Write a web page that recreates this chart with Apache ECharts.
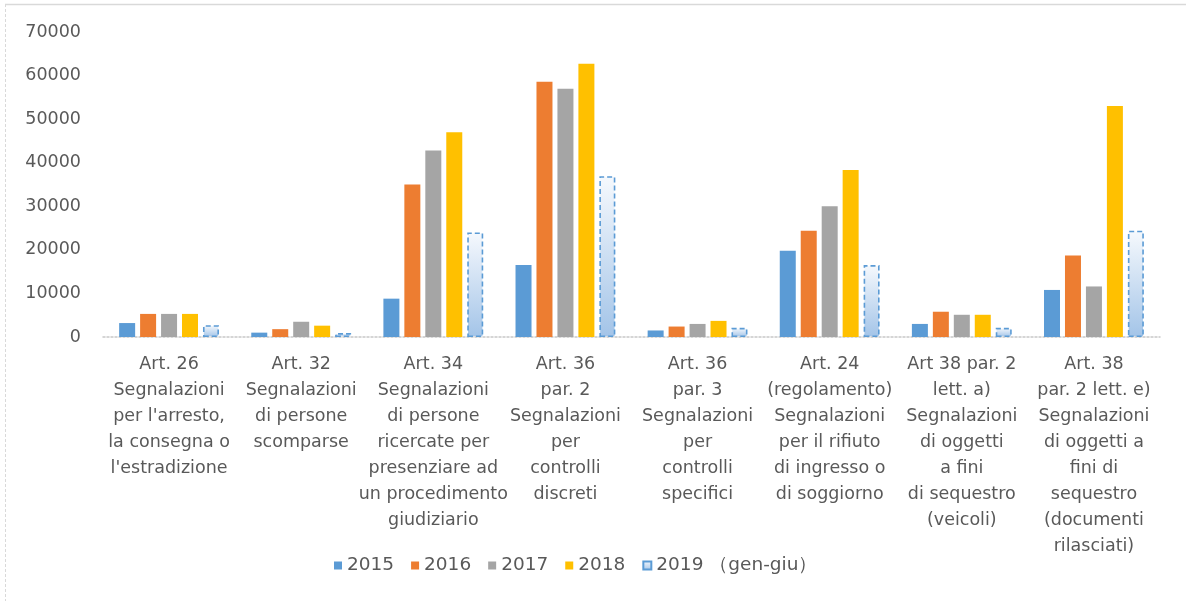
<!DOCTYPE html>
<html><head><meta charset="utf-8">
<script src="https://cdn.jsdelivr.net/npm/echarts@6/dist/echarts.min.js"></script>
<style>html,body{margin:0;padding:0;background:#fff}#c{width:1186px;height:601px}</style>
</head><body><div id="c"></div>
<script>
const categories = [
  "Art. 26\nSegnalazioni\nper l'arresto,\nla consegna o\nl'estradizione",
  "Art. 32\nSegnalazioni\ndi persone\nscomparse",
  "Art. 34\nSegnalazioni\ndi persone\nricercate per\npresenziare ad\nun procedimento\ngiudiziario",
  "Art. 36\npar. 2\nSegnalazioni\nper\ncontrolli\ndiscreti",
  "Art. 36\npar. 3\nSegnalazioni\nper\ncontrolli\nspecifici",
  "Art. 24\n(regolamento)\nSegnalazioni\nper il rifiuto\ndi ingresso o\ndi soggiorno",
  "Art 38 par. 2\nlett. a)\nSegnalazioni\ndi oggetti\na fini\ndi sequestro\n(veicoli)",
  "Art. 38\npar. 2 lett. e)\nSegnalazioni\ndi oggetti a\nfini di\nsequestro\n(documenti\nrilasciati)"
];
const seriesNames = ["2015", "2016", "2017", "2018", "2019 （gen-giu）"];
const v2015 = [3200, 1000, 8800, 16500, 1500, 19800, 3000, 10800];
const v2016 = [5300, 1800, 35000, 58600, 2400, 24400, 5800, 18700];
const v2017 = [5300, 3500, 42800, 57000, 3000, 30000, 5100, 11600];
const v2018 = [5300, 2600, 47000, 62700, 3700, 38300, 5100, 53000];
const v2019 = [2700, 900, 24000, 36900, 2100, 16500, 2100, 24400];
const yTicks = [0, 10000, 20000, 30000, 40000, 50000, 60000, 70000];

const colors = ["#5B9BD5", "#ED7D31", "#A5A5A5", "#FFC000"];
const txt = "#595959";
const font = "'DejaVu Sans', Verdana, sans-serif";
const grad2019 = new echarts.graphic.LinearGradient(0, 0, 0, 1, [
  {offset: 0, color: "#f6f9fd"},
  {offset: 1, color: "#a3c4e8"}
]);
const vals = [v2015, v2016, v2017, v2018, v2019];
const series = vals.map((d, i) => ({
  name: seriesNames[i], type: "bar", data: d,
  barWidth: 16, barGap: "31%",
  itemStyle: i < 4 ? {color: colors[i]}
    : {color: grad2019, borderColor: "#5B9BD5", borderWidth: 1.6, borderType: [5, 3]}
}));

const chart = echarts.init(document.getElementById("c"), null, {renderer: "canvas"});
chart.setOption({
  animation: false,
  backgroundColor: "#fff",
  textStyle: {fontFamily: font},
  grid: {left: 103, right: 26, top: 32, bottom: 264, containLabel: false},
  legend: {
    left: 329, top: 551, itemWidth: 8, itemHeight: 8, itemGap: 17,
    icon: "rect",
    textStyle: {fontFamily: font, fontSize: 18.5, color: txt},
    data: seriesNames
  },
  xAxis: {
    type: "category", data: categories,
    axisTick: {show: false},
    axisLine: {lineStyle: {color: "#c8c8c8", type: [2, 2], width: 1.5}},
    axisLabel: {interval: 0, fontFamily: font, fontSize: 17.5, color: txt, lineHeight: 26, margin: 14}
  },
  yAxis: {
    type: "value", min: yTicks[0], max: yTicks[yTicks.length - 1], interval: 10000,
    splitLine: {show: false},
    axisLine: {show: false}, axisTick: {show: false},
    axisLabel: {fontFamily: font, fontSize: 17.5, color: txt, margin: 22, formatter: v => String(v)}
  },
  graphic: [
    {type: "line", shape: {x1: 5, y1: 4.5, x2: 1186, y2: 4.5}, style: {stroke: "#d9d9d9", lineWidth: 1.5}},
    {type: "line", shape: {x1: 5.5, y1: 4, x2: 5.5, y2: 601}, style: {stroke: "#d9d9d9", lineWidth: 1, lineDash: [3, 2]}}
  ],
  series: series
});
</script></body></html>
